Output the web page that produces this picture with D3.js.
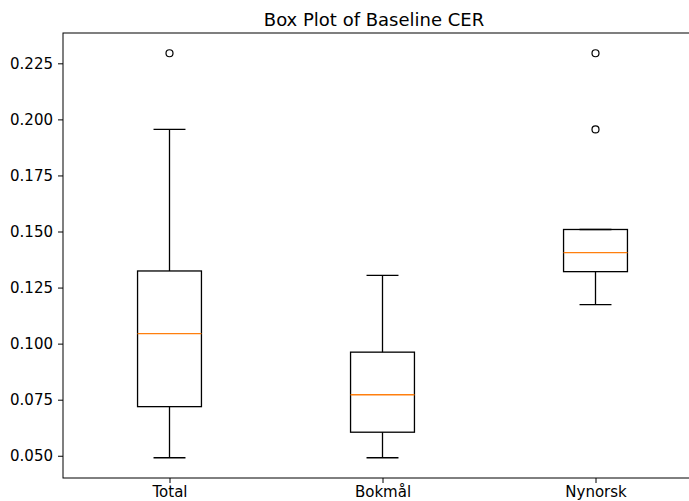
<!DOCTYPE html>
<html>
<head>
<meta charset="utf-8">
<script src="https://cdn.jsdelivr.net/npm/d3@7"></script>
<style>
  body { margin: 0; background: #fff; overflow: hidden; }
  text { font-family: "DejaVu Sans", sans-serif; fill: #000; }
</style>
</head>
<body>
<script>
// box stats
const categories = ["Total", "Bokmål", "Nynorsk"];
const whiskerLow = [0.0491, 0.0491, 0.1174];
const q1 = [0.0719, 0.0605, 0.1321];
const median = [0.1045, 0.0772, 0.1406];
const q3 = [0.1324, 0.0962, 0.1509];
const whiskerHigh = [0.1955, 0.1304, 0.1509];
const outliers = [[0.2295], [], [0.2295, 0.1955]];
const yTicks = [0.050, 0.075, 0.100, 0.125, 0.150, 0.175, 0.200, 0.225];

const width = 689, height = 501;
const margin = { top: 33, right: -13, bottom: 23, left: 63 };

const svg = d3.select("body").append("svg")
    .attr("width", width)
    .attr("height", height);

const x = d3.scaleLinear()
    .domain([0.5, 3.5])
    .range([margin.left, width - margin.right]);

const y = d3.scaleLinear()
    .domain([0.04008, 0.23852])
    .range([height - margin.bottom, margin.top]);

const boxW = x(1.3) - x(1);   // widths = 0.3
const capW = boxW / 2;

const boxes = categories.map((c, i) => ({
    pos: i + 1, lo: whiskerLow[i], q1: q1[i], med: median[i], q3: q3[i], hi: whiskerHigh[i], out: outliers[i]
}));

const g = svg.append("g");

boxes.forEach(b => {
    const cx = x(b.pos);
    // whiskers
    g.append("line").attr("x1", cx).attr("x2", cx).attr("y1", y(b.q1)).attr("y2", y(b.lo))
        .attr("stroke", "#000").attr("stroke-width", 1.3);
    g.append("line").attr("x1", cx).attr("x2", cx).attr("y1", y(b.q3)).attr("y2", y(b.hi))
        .attr("stroke", "#000").attr("stroke-width", 1.3);
    // caps
    [b.lo, b.hi].forEach(v => {
        g.append("line").attr("x1", cx - capW / 2).attr("x2", cx + capW / 2).attr("y1", y(v)).attr("y2", y(v))
            .attr("stroke", "#000").attr("stroke-width", 1.3);
    });
    // box
    g.append("rect")
        .attr("x", cx - boxW / 2).attr("y", y(b.q3))
        .attr("width", boxW).attr("height", y(b.q1) - y(b.q3))
        .attr("fill", "none").attr("stroke", "#000").attr("stroke-width", 1.3);
    // median
    g.append("line").attr("x1", cx - boxW / 2).attr("x2", cx + boxW / 2).attr("y1", y(b.med)).attr("y2", y(b.med))
        .attr("stroke", "#ff7f0e").attr("stroke-width", 1.3);
    // fliers
    g.selectAll(null).data(b.out).enter().append("circle")
        .attr("cx", cx).attr("cy", d => y(d)).attr("r", 3.5)
        .attr("fill", "none").attr("stroke", "#000").attr("stroke-width", 1.2);
});

// axes
const yAxis = svg.append("g")
    .attr("transform", "translate(" + margin.left + ",0)")
    .call(d3.axisLeft(y).tickValues(yTicks).tickFormat(d3.format(".3f")).tickSize(5).tickPadding(5));
yAxis.select(".domain").remove();
yAxis.selectAll("text").style("font-size", "15px");

const xAxis = svg.append("g")
    .attr("transform", "translate(0," + (height - margin.bottom) + ")")
    .call(d3.axisBottom(x).tickValues([1, 2, 3]).tickFormat(d => categories[d - 1]).tickSize(5).tickPadding(3));
xAxis.select(".domain").remove();
xAxis.selectAll("text").style("font-size", "15px");
svg.selectAll(".tick line").attr("stroke", "#000").attr("stroke-width", 1);

// spines
const x0 = margin.left, x1 = width - margin.right, y0 = margin.top, y1 = height - margin.bottom;
svg.append("rect").attr("x", x0).attr("y", y0).attr("width", x1 - x0).attr("height", y1 - y0)
    .attr("fill", "none").attr("stroke", "#000").attr("stroke-width", 1);

svg.append("text")
    .attr("x", 374).attr("y", 26)
    .attr("text-anchor", "middle")
    .style("font-size", "18px")
    .text("Box Plot of Baseline CER");
</script>
</body>
</html>
